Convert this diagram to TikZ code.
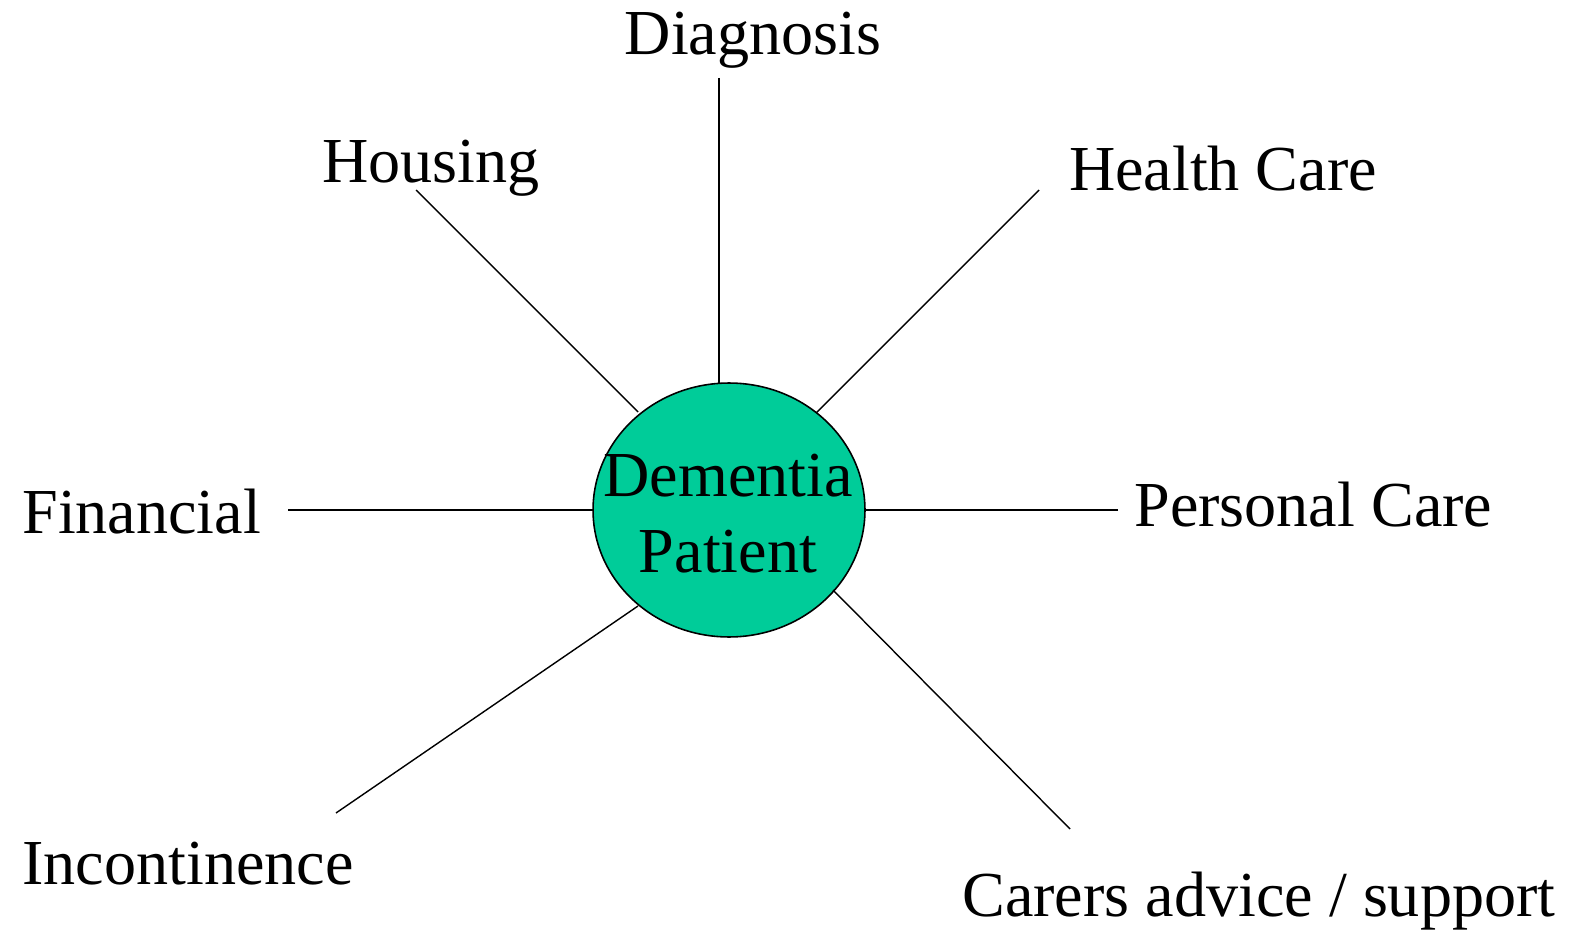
\documentclass[tikz,border=0pt]{standalone}
\usepackage{fontspec}
\setmainfont{Liberation Serif}
\usetikzlibrary{shapes.geometric}
\definecolor{patientgreen}{HTML}{00CC99}
\begin{document}
\begin{tikzpicture}[x=0.02cm,y=-0.02cm,
  lbl/.style={inner sep=0pt,font=\fontsize{36.5}{43}\selectfont},
  spoke/.style={draw=black,line width=0.8pt}]
\useasboundingbox (0,0) rectangle (1572,932);
\node[ellipse,draw=black,line width=0.9pt,fill=patientgreen,inner sep=0pt,
  minimum width=5.44cm,minimum height=5.08cm] (pat) at (729,510) {};
\node[lbl,anchor=base] (dem) at (728,496) {Dementia};
\node[lbl,anchor=base] (patt) at (728,572) {Patient};
\node[lbl,anchor=base] (diag) at (753,55) {Diagnosis};
\node[lbl,anchor=base] (hous) at (431,183) {Housing};
\node[lbl,anchor=base] (hc) at (1223,191) {Health Care};
\node[lbl,anchor=base west] (fin) at (22,533) {Financial};
\node[lbl,anchor=base west] (pc) at (1134,526) {Personal Care};
\node[lbl,anchor=base west] (inc) at (22,884) {Incontinence};
\node[lbl,anchor=base west] (car) at (962,916) {Carers advice / support};
\coordinate (cdiag) at (719,78);
\coordinate (pdiag) at (719,383);
\coordinate (chous) at (416,190);
\coordinate (phous) at (638,412);
\coordinate (chc) at (1039,190);
\coordinate (phc) at (816,413);
\coordinate (cfin) at (288,510);
\coordinate (pfin) at (593,510);
\coordinate (cpc) at (1118,510);
\coordinate (ppc) at (865,510);
\coordinate (cinc) at (336,813);
\coordinate (pinc) at (638,606);
\coordinate (ccar) at (1070,829);
\coordinate (pcar) at (833,590);
\draw[spoke] (cdiag) -- (pdiag);
\draw[spoke] (chous) -- (phous);
\draw[spoke] (chc) -- (phc);
\draw[spoke] (cfin) -- (pfin);
\draw[spoke] (cpc) -- (ppc);
\draw[spoke] (cinc) -- (pinc);
\draw[spoke] (ccar) -- (pcar);
\end{tikzpicture}
\end{document}
